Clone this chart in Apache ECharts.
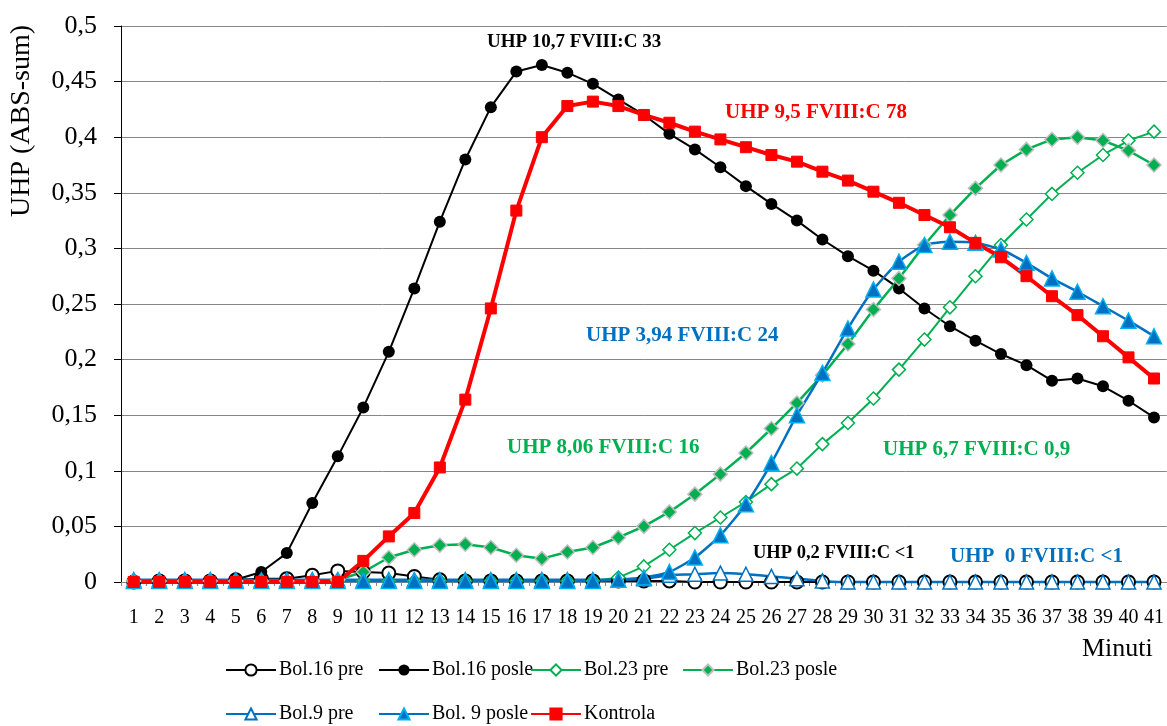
<!DOCTYPE html>
<html>
<head>
<meta charset="utf-8">
<script src="https://cdn.jsdelivr.net/npm/echarts@6/dist/echarts.min.js"></script>
<style>html,body{margin:0;padding:0;background:#fff;}#c{width:1167px;height:726px;}</style>
</head>
<body>
<div id="c"></div>
<script>
const categories = ['1','2','3','4','5','6','7','8','9','10','11','12','13','14','15','16','17','18','19','20','21','22','23','24','25','26','27','28','29','30','31','32','33','34','35','36','37','38','39','40','41'];
const yTicks = [0,0.05,0.1,0.15,0.2,0.25,0.3,0.35,0.4,0.45,0.5];

const bol16pre = [0,0.001,0.001,0.001,0.002,0.003,0.003,0.006,0.010,0.009,
  0.008,0.005,0.002,0.001,0.001,0.001,0.001,0.001,0.001,0.001,
  0.001,0.001,0,0,0,0,0,0,0,0,
  0,0,0,0,0,0,0,0,0,0,0];
const bol16posle = [0,0,0,0,0.002,0.009,0.026,0.071,0.113,0.157,
  0.207,0.264,0.324,0.380,0.427,0.459,0.465,0.458,0.448,0.434,
  0.420,0.403,0.389,0.373,0.356,0.340,0.325,0.308,0.293,0.280,
  0.264,0.246,0.230,0.217,0.205,0.195,0.181,0.183,0.176,0.163,0.148];
const bol23pre = [0.001,0.001,0.001,0.001,0.001,0.001,0.001,0.001,0.001,0.001,
  0.001,0.001,0.001,0.001,0.001,0.001,0.001,0.001,0.001,0.004,
  0.014,0.029,0.044,0.058,0.072,0.088,0.102,0.124,0.143,0.165,
  0.191,0.218,0.247,0.275,0.303,0.326,0.349,0.368,0.384,0.397,0.405];
const bol23posle = [0.001,0.001,0.001,0.001,0.001,0.001,0.001,0.001,0.002,0.009,
  0.022,0.029,0.033,0.034,0.031,0.024,0.021,0.027,0.031,0.040,
  0.050,0.063,0.079,0.097,0.116,0.138,0.161,0.186,0.214,0.245,
  0.273,0.303,0.330,0.354,0.375,0.389,0.398,0.400,0.397,0.388,0.375];
const bol9pre = [0.002,0.002,0.002,0.002,0.002,0.002,0.002,0.002,0.002,0.002,
  0.002,0.002,0.002,0.002,0.002,0.002,0.002,0.002,0.002,0.002,
  0.003,0.006,0.007,0.008,0.007,0.005,0.003,0.001,0,0,
  0,0,0,0,0,0,0,0,0,0,0];
const bol9posle = [0.001,0.001,0.001,0.001,0.001,0.001,0.001,0.001,0.001,0.001,
  0.001,0.001,0.001,0.001,0.001,0.001,0.001,0.001,0.001,0.002,
  0.004,0.009,0.022,0.042,0.070,0.107,0.150,0.188,0.228,0.263,
  0.288,0.303,0.306,0.305,0.299,0.287,0.273,0.261,0.248,0.235,0.221];
const kontrola = [0,0,0,0,0,0,0,0,0,0.019,
  0.041,0.062,0.103,0.164,0.246,0.334,0.400,0.428,0.432,0.428,
  0.420,0.413,0.405,0.398,0.391,0.384,0.378,0.369,0.361,0.351,
  0.341,0.330,0.319,0.305,0.292,0.275,0.257,0.240,0.221,0.202,0.183];

const seriesNames = ['Bol.16 pre','Bol.16 posle','Bol.23 pre','Bol.23 posle','Bol.9 pre','Bol. 9 posle','Kontrola'];

const annotations = [
  {text:'UHP 10,7 FVIII:C 33', color:'#000000', x:487, y:42, size:19},
  {text:'UHP 9,5 FVIII:C 78', color:'#FF0000', x:725, y:113, size:21},
  {text:'UHP 3,94 FVIII:C 24', color:'#0070C0', x:586, y:336, size:21},
  {text:'UHP 8,06 FVIII:C 16', color:'#00B050', x:507, y:448, size:21},
  {text:'UHP 6,7 FVIII:C 0,9', color:'#00B050', x:883, y:450, size:21},
  {text:'UHP 0,2 FVIII:C <1', color:'#000000', x:753, y:553, size:18.5},
  {text:'UHP  0 FVIII:C <1', color:'#0070C0', x:950, y:557, size:21}
];

const FONT = '"Liberation Serif","Times New Roman",serif';
const chart = echarts.init(document.getElementById('c'));

function mk(name, data, opt) {
  return Object.assign({
    name: name, type: 'line', data: data, clip: false,
    animation: false, z: 2
  }, opt);
}

const series = [
  mk(seriesNames[0], bol16pre, {symbol:'circle', symbolSize:13,
    lineStyle:{color:'#000', width:2}, itemStyle:{color:'#fff', borderColor:'#000', borderWidth:2}}),
  mk(seriesNames[1], bol16posle, {symbol:'circle', symbolSize:12,
    lineStyle:{color:'#000', width:2}, itemStyle:{color:'#000', borderColor:'#000', borderWidth:0}}),
  mk(seriesNames[2], bol23pre, {symbol:'diamond', symbolSize:13,
    lineStyle:{color:'#00B050', width:2}, itemStyle:{color:'#fff', borderColor:'#00B050', borderWidth:1.5}}),
  mk(seriesNames[3], bol23posle, {symbol:'diamond', symbolSize:14,
    lineStyle:{color:'#00B050', width:2.5}, itemStyle:{color:'#00B050', borderColor:'#BFBFBF', borderWidth:1.5}}),
  mk(seriesNames[4], bol9pre, {symbol:'triangle', symbolSize:14, smooth:0.4,
    lineStyle:{color:'#0070C0', width:2.5}, itemStyle:{color:'#fff', borderColor:'#0070C0', borderWidth:1.5}}),
  mk(seriesNames[5], bol9posle, {symbol:'triangle', symbolSize:15, smooth:0.2,
    lineStyle:{color:'#0070C0', width:2.5}, itemStyle:{color:'#0070C0', borderColor:'#00B0F0', borderWidth:1.5}}),
  mk(seriesNames[6], kontrola, {symbol:'rect', symbolSize:11,
    lineStyle:{color:'#FF0000', width:4}, itemStyle:{color:'#FF0000', borderColor:'#FF0000', borderWidth:1}})
];

const legendPos = [
  {x:225, y:670}, {x:378, y:670}, {x:530, y:670}, {x:682, y:670},
  {x:225, y:714}, {x:378, y:714}, {x:530, y:714}
];
const legends = seriesNames.map((n, i) => ({
  data: [n], left: legendPos[i].x, top: legendPos[i].y - 10,
  itemWidth: 50, itemHeight: 14, itemGap: 0, padding: 0, selectedMode: false,
  textStyle: {fontFamily: FONT, fontSize: 20, color: '#000', padding: [0,0,0,-2]}
}));

const graphics = annotations.map(a => ({
  type: 'text', x: a.x, y: a.y,
  style: {text: a.text, fill: a.color, font: 'bold ' + a.size + 'px ' + FONT,
    align: 'left', verticalAlign: 'middle'}
}));
graphics.push({
  type: 'text', x: 22, y: 121, rotation: Math.PI / 2,
  style: {text: 'UHP (ABS-sum)', fill: '#000', font: '28px ' + FONT,
    align: 'center', verticalAlign: 'middle'}
});
graphics.push({
  type: 'text', x: 1082, y: 649,
  style: {text: 'Minuti', fill: '#000', font: '26px ' + FONT,
    align: 'left', verticalAlign: 'middle'}
});

chart.setOption({
  animation: false,
  backgroundColor: '#fff',
  grid: {left: 121, top: 26, width: 1046, bottom: 144, containLabel: false},
  xAxis: {
    type: 'category', data: categories, boundaryGap: true,
    axisLine: {show: true, lineStyle: {color: '#868686', width: 1}},
    axisTick: {show: true, length: 4, lineStyle: {color: '#868686'}},
    axisLabel: {fontFamily: FONT, fontSize: 20, color: '#000', margin: 26, interval: 0},
    splitLine: {show: false}
  },
  yAxis: {
    type: 'value', min: 0, max: 0.5, interval: 0.05,
    axisLine: {show: true, lineStyle: {color: '#000', width: 1}},
    axisTick: {show: true, length: 7, lineStyle: {color: '#000'}},
    axisLabel: {fontFamily: FONT, fontSize: 26, color: '#000', margin: 24,
      formatter: v => {
        const t = yTicks.find(k => Math.abs(k - v) < 1e-9);
        return String(t !== undefined ? t : Math.round(v * 100) / 100).replace('.', ',');
      }},
    splitLine: {show: true, lineStyle: {color: '#868686', width: 1}}
  },
  legend: legends,
  graphic: graphics,
  series: series
});
</script>
</body>
</html>
